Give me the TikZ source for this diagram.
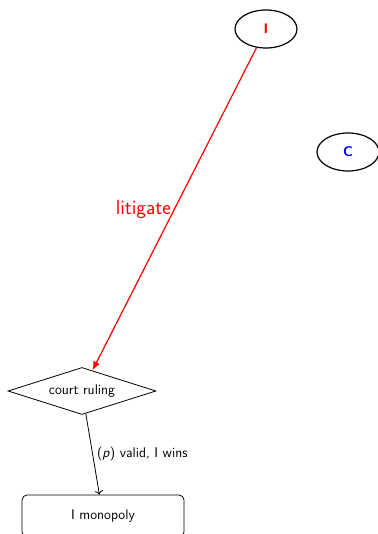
\documentclass[tikz,border=0pt]{standalone}
\usetikzlibrary{shapes.geometric,arrows.meta}
\renewcommand{\familydefault}{\sfdefault}
\begin{document}
\begin{tikzpicture}[x=1pt,y=-1pt,
  player/.style={ellipse,draw,line width=1.2pt,minimum width=62pt,minimum height=38pt,inner sep=0pt,font=\fontsize{14}{16}\selectfont\bfseries},
  decision/.style={diamond,draw,line width=0.8pt,minimum width=148pt,minimum height=47pt,aspect=3.15,inner sep=0pt,font=\fontsize{14}{16}\selectfont},
  outcome/.style={rectangle,rounded corners=5pt,draw,line width=0.8pt,minimum width=162pt,minimum height=42pt,font=\fontsize{14}{16}\selectfont},
  redarrow/.style={draw=red,line width=1.2pt,-{Latex[length=9pt,width=7pt]}},
  blackarrow/.style={draw,line width=0.8pt,-{To[length=4pt]}},
  elabel/.style={font=\fontsize{14}{16}\selectfont}]
\useasboundingbox (0,0) rectangle (377,534);
\node[player,text=red] (I) at (266,29) {I};
\node[player,text=blue] (C) at (348,152) {C};
\node[decision] (D) at (82,391) {court ruling};
\node[outcome] (M) at (103,516) {I monopoly};
\draw[redarrow] (I) -- node[pos=0.5,left,text=red,font=\fontsize{20.5}{22}\selectfont,inner sep=3pt] {litigate} (D);
\draw[blackarrow] (D) -- node[pos=0.5,right,elabel,inner sep=4pt] {(\textit{p}) valid, I wins} (M);
\end{tikzpicture}
\end{document}
